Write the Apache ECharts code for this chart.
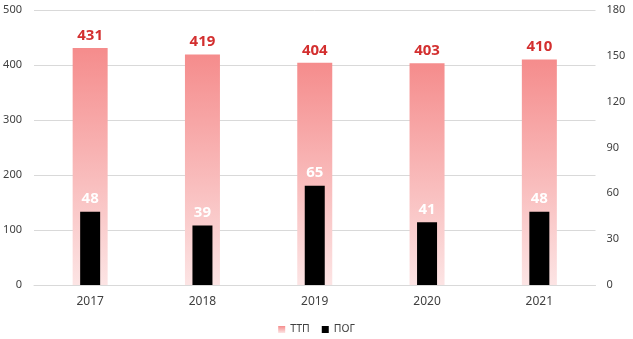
<!DOCTYPE html>
<html><head><meta charset="utf-8">
<script src="https://cdn.jsdelivr.net/npm/echarts@6/dist/echarts.min.js"></script>
<style>html,body{margin:0;padding:0;background:#fff}#c{width:633px;height:339px}</style>
</head><body><div id="c"></div>
<script>
const categories = ['2017','2018','2019','2020','2021'];
const ttp = [431, 419, 404, 403, 410];
const pog = [48, 39, 65, 41, 48];
const leftTicks = {min:0, max:500, interval:100};
const rightTicks = {min:0, max:180, interval:30};

const font = 'Noto Sans';
const chart = echarts.init(document.getElementById('c'));
const grad = new echarts.graphic.LinearGradient(0,0,0,1,[
  {offset:0,color:'#F58C8C'},{offset:1,color:'#FCE4E4'}]);
chart.setOption({
  animation:false,
  textStyle:{fontFamily:font},
  grid:{left:34,right:37.5,top:10,bottom:54},
  legend:{bottom:-1,left:'center',itemWidth:7,itemHeight:7,itemGap:12,
    textStyle:{fontFamily:font,fontSize:10.5,color:'#404040'},
    data:[{name:'ТТП',icon:'rect'},{name:'ПОГ',icon:'rect'}]},
  xAxis:[
    {type:'category',data:categories,
     axisLine:{lineStyle:{color:'#D9D9D9'}},axisTick:{show:false},
     axisLabel:{color:'#404040',fontSize:12,margin:11,fontFamily:font}},
    {type:'category',data:categories,show:false}
  ],
  yAxis:[
    {type:'value',min:leftTicks.min,max:leftTicks.max,interval:leftTicks.interval,
     axisLine:{show:false},axisTick:{show:false},
     splitLine:{lineStyle:{color:'#D9D9D9'}},
     axisLabel:{color:'#404040',fontSize:11,margin:12,fontFamily:font}},
    {type:'value',min:rightTicks.min,max:rightTicks.max,interval:rightTicks.interval,
     axisLine:{show:false},axisTick:{show:false},splitLine:{show:false},
     axisLabel:{color:'#404040',fontSize:11,margin:11,fontFamily:font}}
  ],
  series:[
    {name:'ТТП',type:'bar',data:ttp,barWidth:35,xAxisIndex:0,yAxisIndex:0,
     itemStyle:{color:grad},
     label:{show:true,position:'top',distance:5,color:'#D32F2F',fontWeight:'bold',fontSize:15,fontFamily:font}},
    {name:'ПОГ',type:'bar',data:pog,barWidth:20,xAxisIndex:1,yAxisIndex:1,
     itemStyle:{color:'#000'},
     label:{show:true,position:'top',distance:5,color:'#fff',fontWeight:'bold',fontSize:15,fontFamily:font}}
  ]
});
</script></body></html>
